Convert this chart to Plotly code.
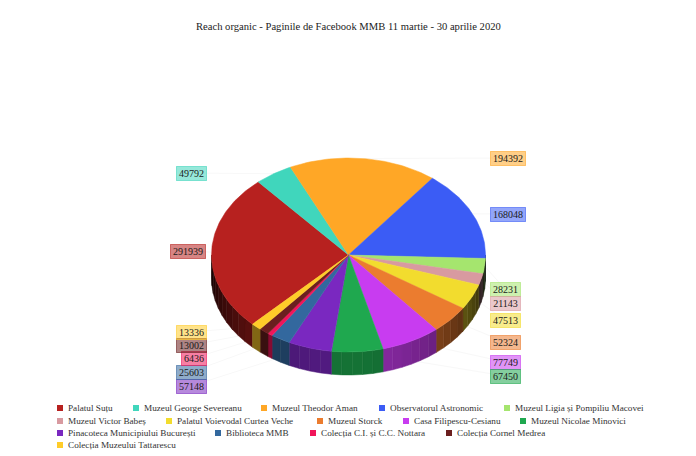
"""3D style pie of organic Facebook reach for the MMB museums."""

import math

import plotly.graph_objects as go

museums = [
    "Palatul Suțu", "Muzeul George Severeanu", "Muzeul Theodor Aman",
    "Observatorul Astronomic", "Muzeul Ligia și Pompiliu Macovei",
    "Muzeul Victor Babeș", "Palatul Voievodal Curtea Veche", "Muzeul Storck",
    "Casa Filipescu-Cesianu", "Muzeul Nicolae Minovici",
    "Pinacoteca Municipiului București", "Biblioteca MMB",
    "Colecția C.I. și C.C. Nottara", "Colecția Cornel Medrea",
    "Colecția Muzeului Tattarescu",
]
reach = [
    291939, 49792, 194392, 168048, 28231, 21143, 47513, 52324,
    77749, 67450, 57148, 25603, 6436, 13002, 13336,
]
colors = [
    "#b7211f", "#40d6bc", "#ffa726", "#3b5cf5", "#a5e56e",
    "#d89aa0", "#f2dc2e", "#eb7c2f", "#c83cf0", "#1fa84f",
    "#7a28c0", "#33689e", "#f0155a", "#6b1f1f", "#ffcc29",
]

# Layout, all in picture pixels
CX, CY = 348.5, 255
RX, RY = 137, 97
DEPTH = 23
START_ANGLE = 224.5  # clockwise from 12 o'clock
PAGE_MARGIN = 8  # browser body margin in front of the figure

label_pos = [
    (188, 251), (191, 173), (508, 158), (508, 214), (505, 289),
    (505, 303), (505, 320), (505, 342), (505, 362), (505, 376),
    (191, 386), (191, 372), (194, 358), (191, 345), (191, 332),
]
legend_pos = [
    (57, 408), (133, 408), (261, 408), (379, 408), (504, 408),
    (57, 421), (166, 421), (317, 421), (403, 421), (520, 421),
    (57, 433), (215, 433), (310, 433), (446, 433),
    (57, 445),
]


def rim(angle, drop=0):
    """Point on the ellipse for a clockwise angle in degrees."""
    a = math.radians(angle)
    return CX + RX * math.sin(a), CY - RY * math.cos(a) + drop


def shade(color, factor):
    r, g, b = (int(color[i:i + 2], 16) for i in (1, 3, 5))
    return f"rgb({int(r * factor)},{int(g * factor)},{int(b * factor)})"


def rgba(color, alpha):
    r, g, b = (int(color[i:i + 2], 16) for i in (1, 3, 5))
    return f"rgba({r},{g},{b},{alpha})"


total = sum(reach)
slices = []
angle = START_ANGLE
for value in reach:
    sweep = value / total * 360
    slices.append((angle, angle + sweep))
    angle += sweep

fig = go.Figure()

# Side wall, split up so the shading runs around the front
for color, (a0, a1) in zip(colors, slices):
    for turn in (0, 360):
        lo, hi = max(a0 - turn, 90), min(a1 - turn, 270)
        if lo >= hi:
            continue
        steps = max(1, math.ceil((hi - lo) / 5))
        for s in range(steps):
            s0 = lo + (hi - lo) * s / steps
            s1 = lo + (hi - lo) * (s + 1) / steps
            mid = (s0 + s1) / 2
            factor = 0.12 + 0.56 * math.cos(math.radians(mid - 180)) ** 1.2
            pts = [s0 + (s1 - s0) * i / 4 for i in range(5)]
            top = [rim(p) for p in pts]
            bottom = [rim(p, DEPTH) for p in reversed(pts)]
            xs, ys = zip(*(top + bottom + top[:1]))
            fig.add_trace(go.Scatter(
                x=xs, y=ys, mode="lines", fill="toself",
                fillcolor=shade(color, factor),
                line=dict(color=shade(color, factor), width=0.5),
                hoverinfo="skip", showlegend=False,
            ))

# Top face
for name, value, color, (a0, a1) in zip(museums, reach, colors, slices):
    steps = max(2, math.ceil(a1 - a0))
    arc = [rim(a0 + (a1 - a0) * i / steps) for i in range(steps + 1)]
    xs, ys = zip(*([(CX, CY)] + arc + [(CX, CY)]))
    fig.add_trace(go.Scatter(
        x=xs, y=ys, mode="lines", fill="toself", fillcolor=color,
        line=dict(color=color, width=0.5), name=name,
        hovertemplate=f"{name}: {value}<extra></extra>", showlegend=False,
    ))

# Value labels with their faint connectors
for value, color, (a0, a1), (lx, ly) in zip(reach, colors, slices, label_pos):
    ex, ey = rim((a0 + a1) / 2)
    fig.add_shape(
        type="line", x0=ex, y0=ey, x1=lx, y1=ly, layer="below",
        line=dict(color="#f8f8f8", width=1),
    )
    fig.add_annotation(
        x=lx, y=ly, text=str(value), showarrow=False,
        width=len(str(value)) * 5 + 2,
        font=dict(size=10, color="#1a1a1a"),
        bgcolor=rgba(color, 0.55), bordercolor=rgba(color, 0.6), borderwidth=1,
        borderpad=1,
    )

# Legend
for name, color, (sx, sy) in zip(museums, colors, legend_pos):
    fig.add_shape(
        type="rect", x0=sx, x1=sx + 6, y0=sy - 3, y1=sy + 3,
        fillcolor=color, line=dict(width=0),
    )
    fig.add_annotation(
        x=sx + 9, y=sy, text=name, showarrow=False, xanchor="left",
        font=dict(size=9.2, color="#333333"),
    )

fig.add_annotation(
    x=348, y=26, text="Reach organic - Paginile de Facebook MMB 11 martie - 30 aprilie 2020",
    showarrow=False, font=dict(size=10.6, color="#222222"),
)

fig.update_layout(
    width=696, height=456,
    margin=dict(l=0, r=0, t=0, b=0),
    paper_bgcolor="#ffffff", plot_bgcolor="#ffffff",
    font=dict(family="Liberation Serif, serif"),
    showlegend=False,
    xaxis=dict(range=[PAGE_MARGIN, 696 + PAGE_MARGIN], visible=False),
    yaxis=dict(range=[456 + PAGE_MARGIN, PAGE_MARGIN], visible=False),
)

fig.write_html("out.html")
